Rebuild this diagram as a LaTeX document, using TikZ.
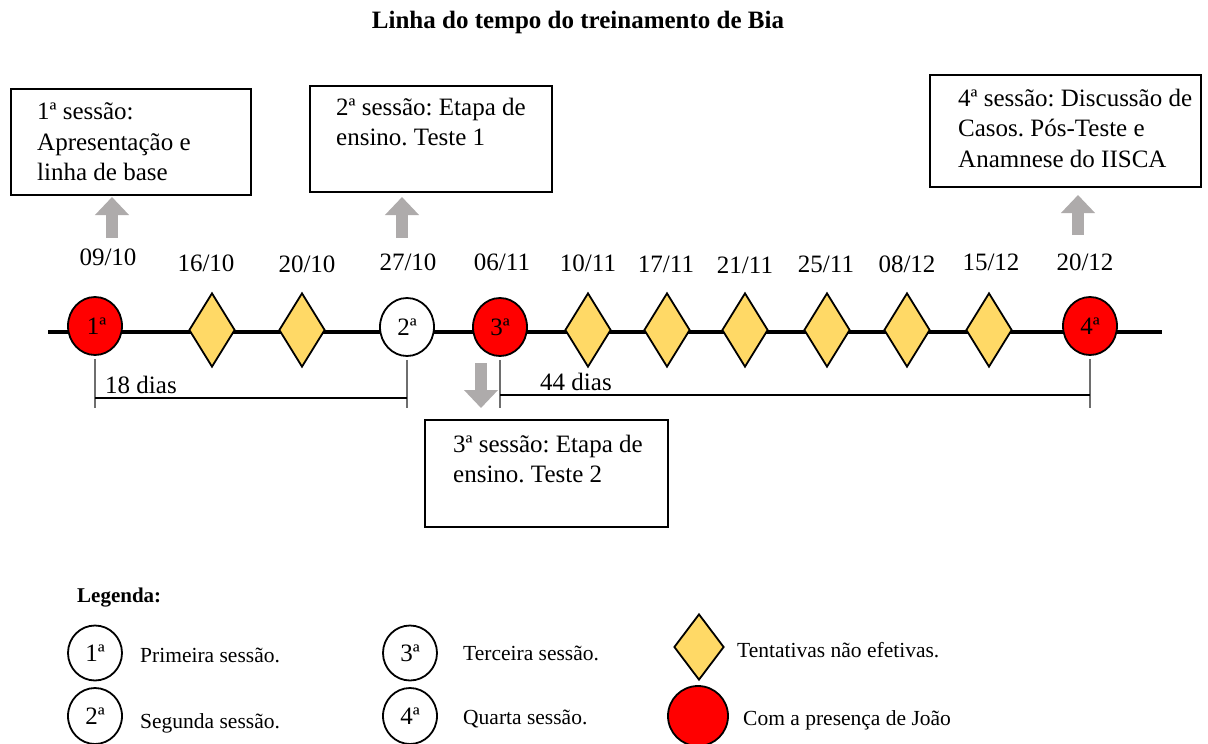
\documentclass[tikz,border=0pt]{standalone}
\usepackage{fontspec}
\setmainfont{Liberation Serif}
\usetikzlibrary{shapes.geometric,arrows.meta,calc}
\definecolor{diafill}{RGB}{255,217,102}
\definecolor{sessred}{RGB}{255,0,0}
\definecolor{arrgray}{RGB}{174,171,171}
\definecolor{dimgray}{RGB}{110,110,110}
\frenchspacing
\begin{document}
\begin{tikzpicture}[x=1pt,y=1pt,
 sess/.style={ellipse, draw=black, line width=1.8pt, minimum width=54pt, minimum height=58pt, inner sep=0pt, font=\fontsize{25}{30}\selectfont},
 joao/.style={sess, fill=sessred},
 plain/.style={sess, fill=white},
 tent/.style={diamond, aspect=0.62, draw=black, line width=1.8pt, fill=diafill, minimum width=46pt, minimum height=74pt, inner sep=0pt},
 datelbl/.style={font=\fontsize{25}{30}\selectfont, inner sep=0pt},
 sessbox/.style={draw=black, line width=1.8pt, inner sep=0pt, anchor=north west},
 boxtxt/.style={font=\fontsize{25}{30.5}\selectfont, align=left, inner sep=0pt, anchor=north west},
 grayarr/.style={draw=arrgray, line width=12pt, -{Triangle[length=18pt,width=33pt]}},
 dimline/.style={draw=dimgray, line width=1.1pt},
 legtxt/.style={font=\fontsize{21.5}{26}\selectfont, inner sep=0pt, anchor=base west},
]
\useasboundingbox (0,0) rectangle (1208,-744);

% title
\node[font=\bfseries\fontsize{25}{30}\selectfont, inner sep=0pt] (title) at (578,-22) {Linha do tempo do treinamento de Bia};

% timeline
\coordinate (tlA) at (48,-332);
\coordinate (tlB) at (1162,-332);
\draw[line width=3.2pt] (tlA) -- (tlB);

\node[joao]  (s1) at (95,-326) {\hspace{3pt}1ª};
\node[tent]  (d1) at (212,-330) {};
\node[tent]  (d2) at (302,-330) {};
\node[plain] (s2) at (407,-327) {2ª};
\node[joao]  (s3) at (500,-327) {3ª};
\node[tent]  (d3) at (588,-330) {};
\node[tent]  (d4) at (667,-330) {};
\node[tent]  (d5) at (745,-330) {};
\node[tent]  (d6) at (827,-330) {};
\node[tent]  (d7) at (907,-330) {};
\node[tent]  (d8) at (989,-330) {};
\node[joao]  (s4) at (1090,-326) {4ª};

% dates
\node[datelbl] (dt1)  at (108,-257) {09/10};
\node[datelbl] (dt2)  at (206,-263) {16/10};
\node[datelbl] (dt3)  at (307,-264) {20/10};
\node[datelbl] (dt4)  at (408,-262) {27/10};
\node[datelbl] (dt5)  at (502,-262) {06/11};
\node[datelbl] (dt6)  at (588,-263) {10/11};
\node[datelbl] (dt7)  at (666,-264) {17/11};
\node[datelbl] (dt8)  at (745,-265) {21/11};
\node[datelbl] (dt9)  at (826,-264) {25/11};
\node[datelbl] (dt10) at (907,-264) {08/12};
\node[datelbl] (dt11) at (991,-262) {15/12};
\node[datelbl] (dt12) at (1085,-262) {20/12};

% boxes
\node[sessbox, minimum width=240pt, minimum height=106pt] (b1) at (10,-88) {};
\node[boxtxt] (t1) at (37,-102.5) {1ª sessão:\\Apresentação e\\linha de base};
\node[sessbox, minimum width=242pt, minimum height=106pt] (b2) at (309,-85) {};
\node[boxtxt] (t2) at (336,-97.5) {2ª sessão: Etapa de\\ensino. Teste 1};
\node[sessbox, minimum width=243pt, minimum height=107pt] (b3) at (424,-419) {};
\node[boxtxt] (t3) at (453,-434.5) {3ª sessão: Etapa de\\ensino. Teste 2};
\node[sessbox, minimum width=271pt, minimum height=112pt] (b4) at (929,-74) {};
\node[boxtxt] (t4) at (958,-88.5) {4ª sessão: Discussão de\\Casos. Pós-Teste e\\Anamnese do IISCA};

% gray arrows
\coordinate (a1s) at (112,-238); \coordinate (a1e) at (112,-197);
\coordinate (a2s) at (402,-238); \coordinate (a2e) at (402,-197);
\coordinate (a4s) at (1078,-235); \coordinate (a4e) at (1078,-195);
\coordinate (a3s) at (481,-363); \coordinate (a3e) at (481,-408);
\draw[grayarr] (a1s) -- (a1e);
\draw[grayarr] (a2s) -- (a2e);
\draw[grayarr] (a4s) -- (a4e);
\draw[grayarr] (a3s) -- (a3e);

% dimension lines
\coordinate (dimbot) at (0,-408);
\coordinate (h18) at (0,-398);
\coordinate (h44) at (0,-395);
\draw[dimline] ([yshift=-3pt]s1.south) -- (s1.south |- dimbot);
\draw[dimline] ([yshift=-3pt]s2.south) -- (s2.south |- dimbot);
\draw[dimline] ([yshift=-3pt]s3.south) -- (s3.south |- dimbot);
\draw[dimline] ([yshift=-3pt]s4.south) -- (s4.south |- dimbot);
\draw[line width=1.1pt] (s1.south |- h18) -- (s2.south |- h18);
\draw[line width=1.1pt] (s3.south |- h44) -- (s4.south |- h44);
\node[datelbl, anchor=west] (l18) at (105,-385) {18 dias};
\node[datelbl, anchor=west] (l44) at (540,-382) {44 dias};

% legend
\node[font=\bfseries\fontsize{21}{25}\selectfont, anchor=west, inner sep=0pt] (leg) at (77,-598) {Legenda:};
\node[plain, minimum height=55pt] (lc1) at (95,-653) {1ª};
\node[plain, minimum height=56pt] (lc2) at (95,-716) {2ª};
\node[plain, minimum height=55pt] (lc3) at (410,-653) {3ª};
\node[plain, minimum height=56pt] (lc4) at (410,-716) {4ª};
\node[legtxt] (lt1) at (140,-662) {Primeira sessão.};
\node[legtxt] (lt2) at (140,-728) {Segunda sessão.};
\node[legtxt] (lt3) at (463,-660) {Terceira sessão.};
\node[legtxt] (lt4) at (463,-724) {Quarta sessão.};
\node[tent, minimum width=50pt, minimum height=66pt] (ld) at (699,-647) {};
\node[joao, minimum width=60pt, minimum height=60pt] (lr) at (698,-716) {};
\node[legtxt] (lt5) at (737,-657) {Tentativas não efetivas.};
\node[legtxt] (lt6) at (743,-725) {Com a presença de João};
\end{tikzpicture}
\end{document}
